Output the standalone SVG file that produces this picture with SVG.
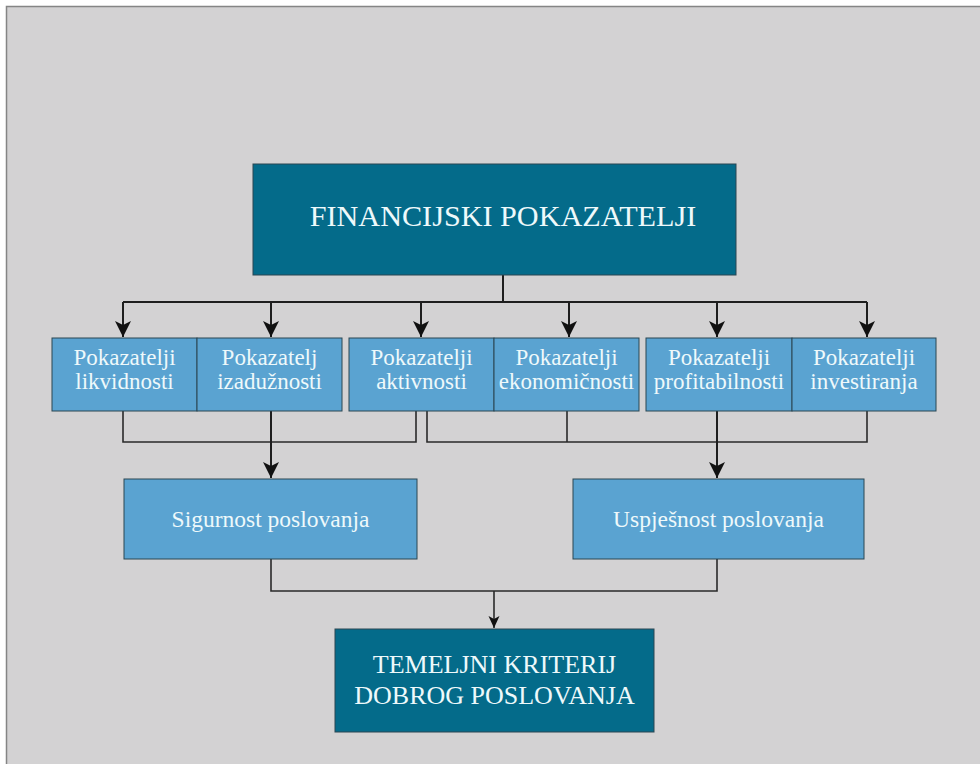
<svg xmlns="http://www.w3.org/2000/svg" width="980" height="764" viewBox="0 0 980 764">
<style>
.dark{fill:#046b8a;stroke:#2b4652;stroke-width:1}
.light{fill:#5aa3d1;stroke:#2b4652;stroke-width:1}
.t{font-family:"Liberation Serif","Times New Roman",serif;fill:#eef9fb;text-anchor:middle}
.s{font-size:23px}
.wire{fill:none;stroke:#1e1e1e;stroke-width:2}
.thin{fill:none;stroke:#2a2a2a;stroke-width:1.6}
</style>
<defs>
<marker id="ah" markerUnits="userSpaceOnUse" markerWidth="18" markerHeight="18" refX="16" refY="8" orient="auto">
<path d="M0,0 L16,8 L0,16 L4,8 Z" fill="#111"/>
</marker>
<marker id="ahs" markerUnits="userSpaceOnUse" markerWidth="14" markerHeight="14" refX="12" refY="5.5" orient="auto">
<path d="M0,0 L12,5.5 L0,11 L3,5.5 Z" fill="#111"/>
</marker>
</defs>
<rect x="0" y="0" width="980" height="764" fill="#ffffff"/>
<rect x="6.5" y="6.5" width="980" height="770" fill="#d3d2d3" stroke="#858585" stroke-width="1.5"/>

<g id="connectors">
<path class="wire" d="M503,275 V302 M123,302 H867"/>
<path class="wire" d="M123,302 V337" marker-end="url(#ah)"/>
<path class="wire" d="M271,302 V337" marker-end="url(#ah)"/>
<path class="wire" d="M421,302 V337" marker-end="url(#ah)"/>
<path class="wire" d="M569,302 V337" marker-end="url(#ah)"/>
<path class="wire" d="M717,302 V337" marker-end="url(#ah)"/>
<path class="wire" d="M867,302 V337" marker-end="url(#ah)"/>
<path class="thin" d="M123,411 V442 H416 V411"/>
<path class="thin" d="M427,411 V442 H867 V411 M567,411 V442"/>
<path class="wire" d="M271,411 V478" marker-end="url(#ah)"/>
<path class="wire" d="M717,411 V478" marker-end="url(#ah)"/>
<path class="thin" d="M271,559 V591 H717 V559"/>
<path class="thin" d="M494,591 V628" marker-end="url(#ahs)"/>
</g>

<g id="financijski">
<rect class="dark" x="253" y="164" width="483" height="111"/>
<text class="t" x="503" y="226" font-size="30.2">FINANCIJSKI POKAZATELJI</text>
</g>

<g id="likvidnosti">
<rect class="light" x="52" y="338" width="145" height="73"/>
<text class="t s" x="124.5" y="365">Pokazatelji</text>
<text class="t s" x="124.5" y="389">likvidnosti</text>
</g>
<g id="izaduznosti">
<rect class="light" x="197" y="338" width="145" height="73"/>
<text class="t s" x="269.5" y="365">Pokazatelj</text>
<text class="t s" x="269.5" y="389">izadužnosti</text>
</g>
<g id="aktivnosti">
<rect class="light" x="349" y="338" width="145" height="73"/>
<text class="t s" x="421.5" y="365">Pokazatelji</text>
<text class="t s" x="421.5" y="389">aktivnosti</text>
</g>
<g id="ekonomicnosti">
<rect class="light" x="494" y="338" width="145" height="73"/>
<text class="t s" x="566.5" y="365">Pokazatelji</text>
<text class="t s" x="566.5" y="389">ekonomičnosti</text>
</g>
<g id="profitabilnosti">
<rect class="light" x="646" y="338" width="146" height="73"/>
<text class="t s" x="719" y="365">Pokazatelji</text>
<text class="t s" x="719" y="389">profitabilnosti</text>
</g>
<g id="investiranja">
<rect class="light" x="792" y="338" width="144" height="73"/>
<text class="t s" x="864" y="365">Pokazatelji</text>
<text class="t s" x="864" y="389">investiranja</text>
</g>

<g id="sigurnost">
<rect class="light" x="124" y="479" width="293" height="80"/>
<text class="t" x="270.5" y="527" font-size="23.5">Sigurnost poslovanja</text>
</g>
<g id="uspjesnost">
<rect class="light" x="573" y="479" width="291" height="80"/>
<text class="t" x="718.5" y="527" font-size="23.5">Uspješnost poslovanja</text>
</g>

<g id="temeljni">
<rect class="dark" x="335" y="629" width="319" height="103"/>
<text class="t" x="494.5" y="673" font-size="26">TEMELJNI KRITERIJ</text>
<text class="t" x="494.5" y="704" font-size="26">DOBROG POSLOVANJA</text>
</g>
</svg>
